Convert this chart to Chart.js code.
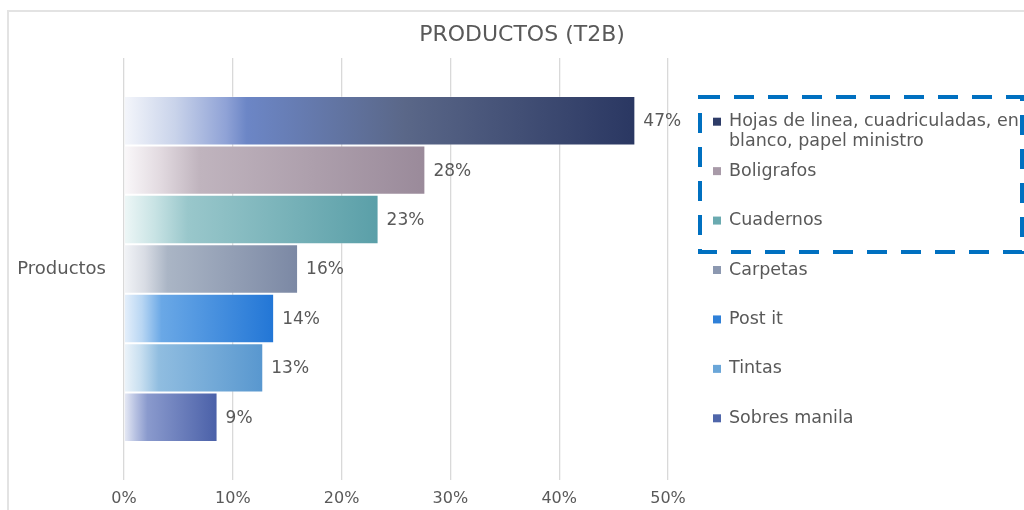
<!DOCTYPE html>
<html>
<head>
<meta charset="utf-8">
<script src="https://cdn.jsdelivr.net/npm/chart.js@4"></script>
<style>
  html, body { margin: 0; padding: 0; background: #fff; }
  #wrap { width: 1024px; height: 510px; position: relative; }
</style>
</head>
<body>
<div id="wrap"><canvas id="bar"></canvas></div>
<script>
// data (values in %)
const categories = ['Productos'];
const seriesNames = ['Hojas de linea, cuadriculadas, en blanco, papel ministro', 'Boligrafos', 'Cuadernos', 'Carpetas', 'Post it', 'Tintas', 'Sobres manila'];
const seriesValues = [47.0, 27.7, 23.4, 16.0, 13.8, 12.8, 8.6];
const xTicks = [0, 10, 20, 30, 40, 50];
const chartTitle = 'PRODUCTOS (T2B)';

// legend text is wrapped like in the picture
const legendLines = [
    ['Hojas de linea, cuadriculadas, en', 'blanco, papel ministro'],
    ['Boligrafos'], ['Cuadernos'], ['Carpetas'], ['Post it'], ['Tintas'], ['Sobres manila'],
];

// styles
const FONT = 'DejaVu Sans';
const TEXT = '#595959';
const markerColors = ['#2e3c68', '#a89aa8', '#6aaab0', '#8c98b0', '#2f80d8', '#6aa6d8', '#4f66aa'];
const gradStops = [
    [[0, '#f4f6fb'], [0.1, '#c9d3ea'], [0.2, '#8fa2d6'], [0.24, '#6c86c6'], [0.55, '#5a6788'], [1, '#2a3762']],
    [[0, '#faf8fa'], [0.12, '#e2dae0'], [0.25, '#c0b4be'], [1, '#9a8a9a']],
    [[0, '#eef7f7'], [0.12, '#c8e3e4'], [0.25, '#99c7cb'], [1, '#5a9fa8']],
    [[0, '#f2f4f7'], [0.12, '#d8dce4'], [0.25, '#aab5c5'], [1, '#7b88a4']],
    [[0, '#e6f0fb'], [0.12, '#b8d6f3'], [0.25, '#6aa8e6'], [1, '#2276d6']],
    [[0, '#edf4fa'], [0.12, '#c8dff0'], [0.25, '#90bde0'], [1, '#5897cf']],
    [[0, '#e8ebf5'], [0.12, '#b8c2e2'], [0.25, '#8a9acd'], [1, '#4a60a8']],
];

function barGradient(i) {
    return (ctx) => {
        const chart = ctx.chart;
        const xs = chart.scales.x;
        if (!chart.chartArea || !xs || ctx.type !== 'data') return markerColors[i];
        const x0 = xs.getPixelForValue(0);
        const x1 = xs.getPixelForValue(ctx.raw);
        const g = chart.ctx.createLinearGradient(x0, 0, x1, 0);
        gradStops[i].forEach(([o, c]) => g.addColorStop(o, c));
        return g;
    };
}

// frame, title, value labels, legend and the dashed highlight box
const decorations = {
    id: 'decorations',
    beforeDraw(chart) {
        const c = chart.ctx;
        c.save();
        c.strokeStyle = '#e3e3e3';
        c.lineWidth = 2;
        c.beginPath();
        c.moveTo(8, 510);
        c.lineTo(8, 11);
        c.lineTo(1024, 11);
        c.stroke();
        c.fillStyle = TEXT;
        c.font = '22px "' + FONT + '"';
        c.textAlign = 'center';
        c.textBaseline = 'middle';
        c.fillText(chartTitle, 522, 35);
        c.restore();
    },
    afterDatasetsDraw(chart) {
        const c = chart.ctx;
        c.save();
        c.fillStyle = TEXT;
        c.font = '17px "' + FONT + '"';
        c.textBaseline = 'middle';
        chart.data.datasets.forEach((ds, i) => {
            const el = chart.getDatasetMeta(i).data[0];
            c.textAlign = 'left';
            c.fillText(Math.round(ds.data[0]) + '%', el.x + 8, el.y + 1);
        });
        c.restore();
    },
    afterDraw(chart) {
        const c = chart.ctx;
        c.save();
        c.font = '17.5px "' + FONT + '"';
        c.textBaseline = 'middle';
        c.textAlign = 'left';
        chart.data.datasets.forEach((ds, i) => {
            const el = chart.getDatasetMeta(i).data[0];
            const y = el.y + 1;
            c.fillStyle = markerColors[i];
            c.fillRect(713, y - 4, 8, 8);
            c.fillStyle = TEXT;
            legendLines[i].forEach((line, k) => c.fillText(line, 729, y + k * 20));
        });
        c.strokeStyle = '#0070c0';
        c.lineWidth = 4;
        c.setLineDash([20, 14]);
        c.strokeRect(700, 97, 322, 155);
        c.restore();
    }
};

const Bar = document.getElementById('bar').getContext('2d');

const myBarChart = new Chart(Bar, {
    type: 'bar',
    data: {
        labels: categories,
        datasets: seriesNames.map((name, i) => ({
            label: name,
            data: [seriesValues[i]],
            backgroundColor: barGradient(i),
            borderColor: 'rgba(255,255,255,0.25)',
            borderWidth: 1,
        })),
    },
    options: {
        indexAxis: 'y',
        responsive: true,
        maintainAspectRatio: false,
        animation: false,
        categoryPercentage: 0.82,
        barPercentage: 1,
        layout: {
            padding: { top: 58, right: 356, bottom: 0, left: 0 },
        },
        plugins: {
            legend: { display: false },
            title: { display: false },
            tooltip: { enabled: false },
        },
        scales: {
            x: {
                min: 0,
                max: 50,
                afterBuildTicks: (scale) => {
                    scale.ticks = xTicks.map((v) => ({ value: v }));
                },
                afterFit: (scale) => { scale.height = 30; },
                ticks: {
                    callback: (v) => v + '%',
                    color: TEXT,
                    font: { family: FONT, size: 16 },
                    padding: 9,
                    maxRotation: 0,
                },
                grid: {
                    color: '#d9d9d9',
                    lineWidth: 1.3,
                    drawTicks: false,
                },
                border: { display: false },
            },
            y: {
                afterFit: (scale) => { scale.width = 124; },
                ticks: {
                    color: TEXT,
                    font: { family: FONT, size: 18 },
                    padding: 18,
                },
                grid: { display: false, drawTicks: false },
                border: { display: false },
            },
        },
    },
    plugins: [decorations],
});
</script>
</body>
</html>
